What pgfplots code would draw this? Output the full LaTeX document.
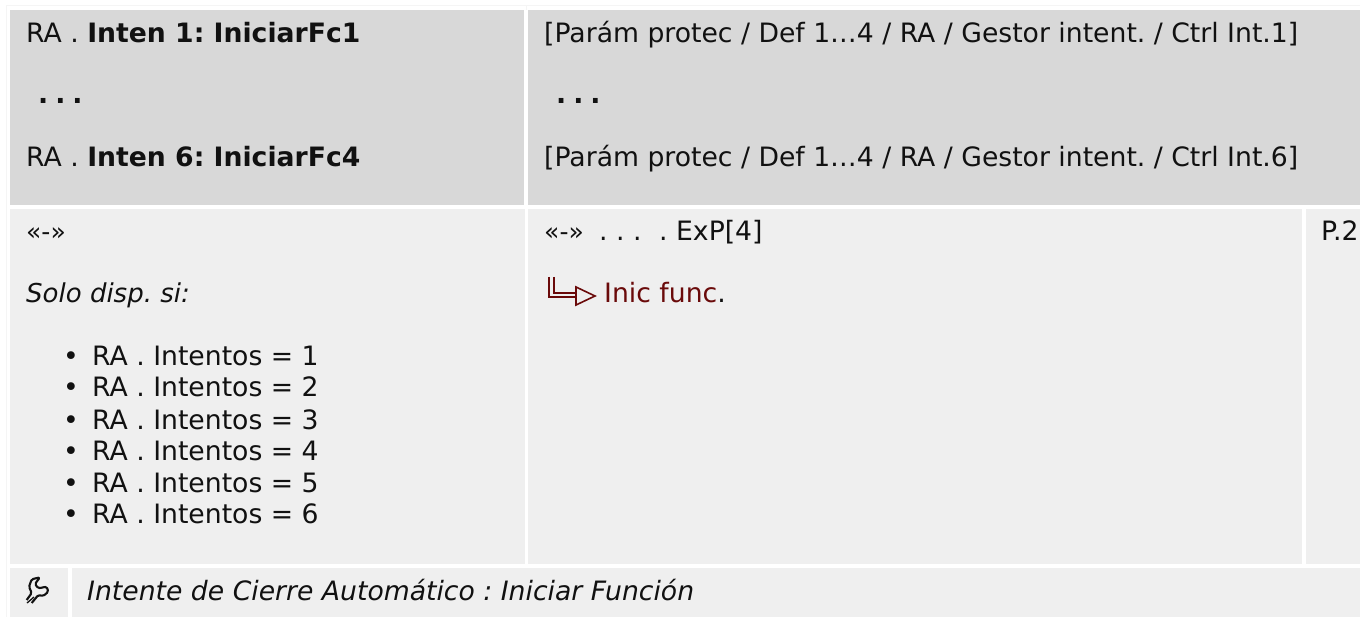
\documentclass[border=0pt]{standalone}
\usepackage{pgfplots}
\pgfplotsset{compat=1.18}
\usepackage{fontspec}
\setmainfont{DejaVu Sans}
\definecolor{hdr}{HTML}{D8D8D8}
\definecolor{cellc}{HTML}{EFEFEF}
\definecolor{edge}{HTML}{F5F5F5}
\definecolor{txt}{HTML}{111111}
\definecolor{dred}{HTML}{6A0A0A}
\newcommand{\cell}[5]{\addplot[draw=none,fill=#5,forget plot] coordinates {(#1,#2) (#3,#2) (#3,#4) (#1,#4)} --cycle;}
\newcommand{\tx}[3]{\node[anchor=base west,inner sep=0pt,text=txt,font=\fontsize{26.65}{31}\selectfont] at (axis cs:#1,#2) {\frenchspacing #3};}
\newcommand{\tdots}{\textbf{.\kern7pt.\kern7pt.}}
\begin{document}
\begin{tikzpicture}
\path[use as bounding box] (0,0) rectangle (1360pt,617pt);
\begin{axis}[at={(0,0)},anchor=south west,scale only axis,width=1360pt,height=617pt,xmin=0,xmax=1360,ymin=0,ymax=617,y dir=reverse,hide axis,clip=false]
\addplot[edge,line width=1pt,forget plot] coordinates {(6.5,617) (6.5,6) (1360,6)};
\addplot[edge,line width=1pt,forget plot] coordinates {(526,6) (526,10)};
\cell{10}{10}{524}{205}{hdr}
\cell{528}{10}{1360}{205}{hdr}
\cell{10}{209}{525}{564}{cellc}
\cell{528}{209}{1302}{564}{cellc}
\cell{1306}{209}{1360}{564}{cellc}
\cell{10}{568}{68}{617}{cellc}
\cell{72}{568}{1360}{617}{cellc}
\tx{26}{43}{RA . \textbf{Inten 1: IniciarFc1}}
\tx{38}{104}{\tdots}
\tx{26}{167}{RA . \textbf{Inten 6: IniciarFc4}}
\tx{544}{43}{[Parám protec / Def 1…4 / RA / Gestor intent. / Ctrl Int.1]}
\tx{556}{104}{\tdots}
\tx{544}{167}{[Parám protec / Def 1…4 / RA / Gestor intent. / Ctrl Int.6]}
\tx{26}{241}{\fontsize{25}{31}\selectfont «-»}
\tx{544}{241}{\fontsize{25}{31}\selectfont «-»}
\tx{599}{241}{. . .}
\tx{659}{241}{. ExP[4]}
\tx{1321}{241}{P.2}
\tx{26}{303}{\fontsize{26}{31}\selectfont\textit{Solo disp. si:}}
\tx{63}{366}{•}\tx{92}{366}{RA . Intentos = 1}
\tx{63}{397}{•}\tx{92}{397}{RA . Intentos = 2}
\tx{63}{429}{•}\tx{92}{429}{RA . Intentos = 3}
\tx{63}{460}{•}\tx{92}{460}{RA . Intentos = 4}
\tx{63}{492}{•}\tx{92}{492}{RA . Intentos = 5}
\tx{63}{523}{•}\tx{92}{523}{RA . Intentos = 6}
\node[anchor=base west,inner sep=0pt,font=\fontsize{26.65}{31}\selectfont] at (axis cs:604,303) {\textcolor{dred}{Inic func}\textcolor{txt}{.}};
\draw[dred,line width=2pt] (axis cs:549,277) -- (axis cs:549,297.5) -- (axis cs:576,297.5);
\draw[dred,line width=2pt] (axis cs:554,277) -- (axis cs:554,293.5) -- (axis cs:576,293.5);
\draw[dred,line width=1.6pt,fill=cellc] (axis cs:576,287) -- (axis cs:595,296) -- (axis cs:576,305) -- cycle;
\draw[txt,line width=2.1pt,line join=round,rounded corners=1.5pt] (axis cs:26.7,600) -- (axis cs:31.7,593) -- (axis cs:29,586.7) -- (axis cs:31.7,579.3) -- (axis cs:40,577.3) -- (axis cs:35,584) -- (axis cs:38.3,588.3) -- (axis cs:46.7,586.7) -- (axis cs:48.3,591.7) -- (axis cs:43.3,596) -- (axis cs:38.3,595) -- (axis cs:31.7,603);
\draw[txt,line width=1.3pt] (axis cs:27,603) -- (axis cs:34,597);
\tx{87}{600}{\textit{Intente de Cierre Automático : Iniciar Función}}
\end{axis}
\end{tikzpicture}
\end{document}
